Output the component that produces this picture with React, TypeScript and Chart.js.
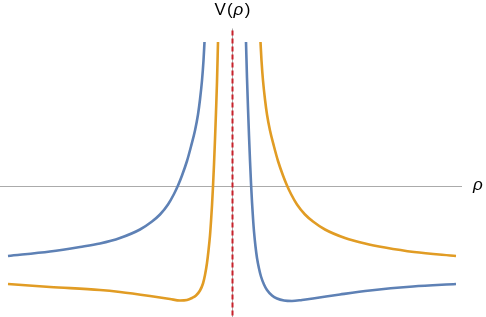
import React, { useEffect, useRef } from "react";
import { Chart, registerables } from "chart.js";

Chart.register(...registerables);

// [rho, V] pairs
const blueLeft: [number, number][] = [
  [-2.24, -1.41], [-1.82, -1.32], [-1.52, -1.23], [-1.32, -1.16], [-1.12, -1.05],
  [-0.92, -0.88], [-0.80, -0.72], [-0.72, -0.58], [-0.64, -0.38], [-0.58, -0.17],
  [-0.54, 0.0], [-0.50, 0.20], [-0.45, 0.49], [-0.41, 0.78], [-0.37, 1.10],
  [-0.34, 1.42], [-0.32, 1.72], [-0.30, 2.10], [-0.285, 2.50], [-0.275, 2.87],
];
const blueRight: [number, number][] = [
  [0.14, 2.87], [0.15, 2.15], [0.16, 1.55], [0.17, 1.0], [0.18, 0.5],
  [0.19, 0.05], [0.20, -0.33], [0.21, -0.65], [0.22, -0.92], [0.235, -1.22],
  [0.25, -1.45], [0.27, -1.66], [0.29, -1.82], [0.32, -1.98], [0.35, -2.09],
  [0.40, -2.20], [0.45, -2.26], [0.52, -2.30], [0.60, -2.31], [0.70, -2.29],
  [0.81, -2.26], [1.08, -2.18], [1.38, -2.10], [1.81, -2.02], [2.24, -1.97],
];
const orangeLeft: [number, number][] = [
  [-2.24, -1.97], [-1.82, -2.03], [-1.32, -2.09], [-1.12, -2.13], [-0.82, -2.21],
  [-0.62, -2.27], [-0.52, -2.30], [-0.45, -2.29], [-0.40, -2.25], [-0.36, -2.20],
  [-0.32, -2.10], [-0.29, -1.96], [-0.27, -1.79], [-0.25, -1.55], [-0.235, -1.30],
  [-0.22, -1.00], [-0.21, -0.72], [-0.20, -0.40], [-0.19, -0.02], [-0.18, 0.42],
  [-0.17, 0.92], [-0.16, 1.47], [-0.15, 2.07], [-0.14, 2.87],
];
const orangeRight: [number, number][] = [
  [0.285, 2.87], [0.295, 2.50], [0.31, 2.10], [0.33, 1.72], [0.35, 1.42],
  [0.38, 1.10], [0.42, 0.78], [0.46, 0.49], [0.51, 0.20], [0.55, 0.0],
  [0.59, -0.17], [0.65, -0.38], [0.73, -0.58], [0.81, -0.72], [0.93, -0.88],
  [1.13, -1.05], [1.33, -1.16], [1.53, -1.24], [1.82, -1.33], [2.24, -1.41],
];

const xRange = [-2.32, 2.54];
const yRange = [-2.63, 3.71];
const axisXEnd = 2.3;
const axisYTop = 3.14;
const dashTop = 3.1;

const BLUE = "#5E81B5";
const ORANGE = "#E19C24";
const RED = "#C8202A";
const GRAY = "#ABABAB";

const toPts = (a: [number, number][]) => a.map(([x, y]) => ({ x, y }));

const axesPlugin = {
  id: "axesPlugin",
  beforeDatasetsDraw(chart: any) {
    const { ctx, scales } = chart;
    const xs = scales.x, ys = scales.y;
    const x0 = Math.round(xs.getPixelForValue(0)) + 0.5;
    const y0 = Math.round(ys.getPixelForValue(0)) + 0.5;
    ctx.save();
    ctx.strokeStyle = GRAY;
    ctx.lineWidth = 1;
    ctx.beginPath();
    ctx.moveTo(0, y0);
    ctx.lineTo(xs.getPixelForValue(axisXEnd), y0);
    ctx.moveTo(x0, ys.getPixelForValue(axisYTop));
    ctx.lineTo(x0, chart.height);
    ctx.stroke();
    ctx.restore();
  },
  afterDatasetsDraw(chart: any) {
    const { ctx, scales } = chart;
    const xs = scales.x, ys = scales.y;
    const x0 = Math.round(xs.getPixelForValue(0)) + 0.5;
    const y0 = ys.getPixelForValue(0);
    ctx.save();
    ctx.strokeStyle = RED;
    ctx.lineWidth = 2;
    ctx.setLineDash([5, 3]);
    ctx.beginPath();
    ctx.moveTo(x0, ys.getPixelForValue(dashTop));
    ctx.lineTo(x0, chart.height);
    ctx.stroke();
    ctx.setLineDash([]);
    // labels
    ctx.fillStyle = "#000";
    ctx.textBaseline = "alphabetic";
    const up = "17px 'Liberation Sans', Arial, sans-serif";
    const it = "italic 17px 'Liberation Sans', Arial, sans-serif";
    ctx.font = up;
    const wV = ctx.measureText("V").width + 1;
    const wP = ctx.measureText("(").width + 1;
    const w3 = ctx.measureText(")").width;
    ctx.font = it;
    const w2 = ctx.measureText("ρ").width + 1.5;
    const total = wV + wP + w2 + w3;
    let x = x0 - total / 2;
    const yb = 15;
    ctx.font = up;
    ctx.fillText("V", x, yb);
    x += wV;
    ctx.fillText("(", x, yb);
    x += wP;
    ctx.font = it;
    ctx.fillText("ρ", x, yb);
    x += w2;
    ctx.font = up;
    ctx.fillText(")", x, yb);
    ctx.font = it;
    ctx.fillText("ρ", xs.getPixelForValue(axisXEnd) + 11, y0 + 4);
    ctx.restore();
  },
};

export default function App() {
  const ref = useRef<HTMLCanvasElement>(null);
  useEffect(() => {
    if (!ref.current) return;
    const common = {
      pointRadius: 0,
      borderWidth: 2.6,
      cubicInterpolationMode: "monotone" as const,
      fill: false,
    };
    const chart = new Chart(ref.current, {
      type: "line",
      data: {
        datasets: [
          { ...common, data: toPts(blueLeft), borderColor: BLUE },
          { ...common, data: toPts(blueRight), borderColor: BLUE },
          { ...common, data: toPts(orangeLeft), borderColor: ORANGE },
          { ...common, data: toPts(orangeRight), borderColor: ORANGE },
        ],
      },
      options: {
        responsive: false,
        animation: false,
        layout: { padding: 0 },
        plugins: { legend: { display: false }, tooltip: { enabled: false } },
        scales: {
          x: { type: "linear", min: xRange[0], max: xRange[1], display: false },
          y: { type: "linear", min: yRange[0], max: yRange[1], display: false },
        },
      },
      plugins: [axesPlugin],
    });
    return () => chart.destroy();
  }, []);
  return (
    <div style={{ position: "absolute", left: 0, top: 0, width: 486, height: 317, background: "#fff" }}>
      <canvas ref={ref} width={486} height={317} style={{ display: "block" }} />
    </div>
  );
}
